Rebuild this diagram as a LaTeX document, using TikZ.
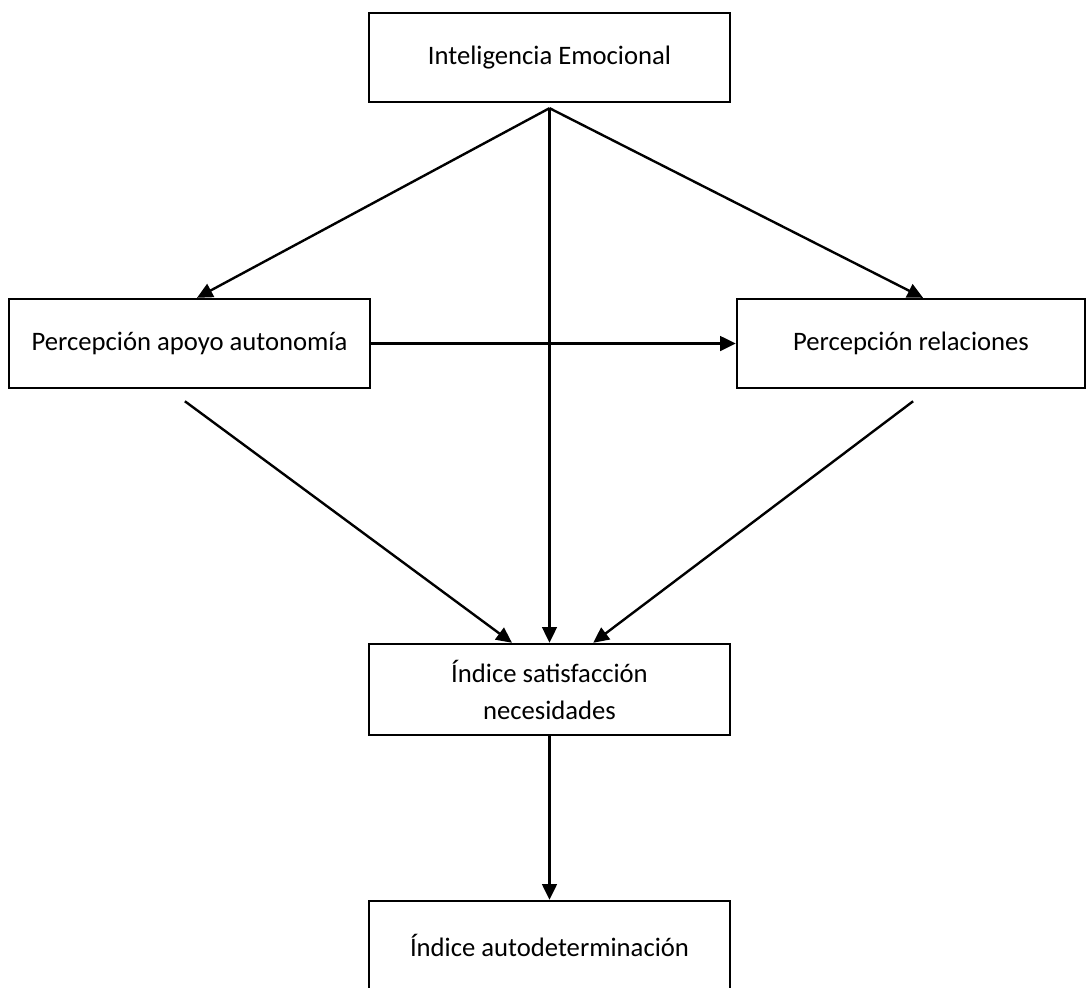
\documentclass[tikz,border=0pt]{standalone}
\usepackage{fontspec}
\setmainfont{Carlito}
\usetikzlibrary{arrows.meta, positioning}

\begin{document}
\begin{tikzpicture}[
			x=0.48pt, y=-0.48pt,
			every node/.style={font=\fontsize{12.8}{17.8}\selectfont, align=center},
			block/.style={rectangle, draw, line width=1.15pt, minimum width=173pt, minimum height=42.7pt, inner sep=0pt},
			line/.style={-{Triangle[length=7.5pt, width=7pt]}, line width=1.15pt}
			]
			\useasboundingbox (0,0) rectangle (1087,987);
			\clip (0,0) rectangle (1087,987);
			
			\node[block] (emo) at (549.5,57.5) {Inteligencia Emocional};
			\node[block] (apoyo) at (189.5,343.5) {Percepción apoyo autonomía};
			\node[block, minimum width=167pt] (relac) at (911,343.5) {Percepción relaciones};
			\node[block, minimum height=43.7pt] (satis) at (549.5,689.5) {Índice satisfacción\\necesidades};
			\node[block] (autodet) at (549.5,945.5) {Índice autodeterminación};
			
			\coordinate (fork) at ([yshift=-2.4pt]emo.south);
			
			\draw[line] (fork) -- ([xshift=3.6pt]apoyo.north);
			\draw[line] (fork) -- (satis.north);
			\draw[line] (fork) -- ([xshift=5.8pt]relac.north);
			\draw[line] (apoyo.east) -- (relac.west);
			\draw[line] ([xshift=-2.2pt, yshift=-5.8pt]apoyo.south) -- ([xshift=-18pt]satis.north);
			\draw[line] ([xshift=1pt, yshift=-5.8pt]relac.south) -- ([xshift=21pt]satis.north);
			\draw[line] (satis) -- (autodet);
		\end{tikzpicture}
\end{document}
